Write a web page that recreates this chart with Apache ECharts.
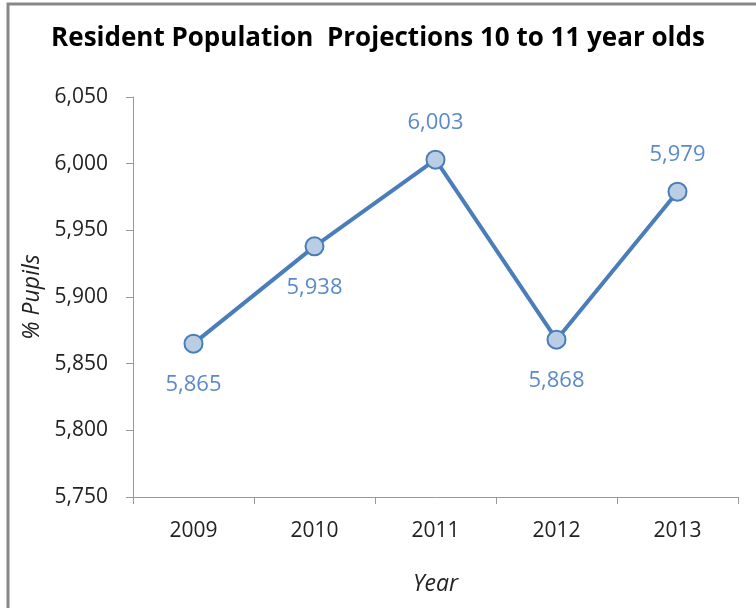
<!DOCTYPE html>
<html><head><meta charset="utf-8">
<script src="https://cdn.jsdelivr.net/npm/echarts@6/dist/echarts.min.js"></script>
<style>html,body{margin:0;padding:0;background:#fff}#c{width:756px;height:608px}</style>
</head><body><div id="c"></div>
<script>
const categories = ['2009','2010','2011','2012','2013'];
const values = [5865, 5938, 6003, 5868, 5979];
const labelPositions = ['bottom','bottom','top','bottom','top'];
const yTicks = {min: 5750, max: 6050, interval: 50};

const chart = echarts.init(document.getElementById('c'));
const fmt = v => v.toLocaleString('en-US');
chart.setOption({
  animation: false,
  backgroundColor: '#fff',
  title: {
    text: 'Resident Population  Projections 10 to 11 year olds',
    left: 'center', top: 21,
    textStyle: {fontFamily: 'Open Sans', fontWeight: 'bold', fontSize: 26, color: '#000'}
  },
  graphic: [{
    type: 'rect', shape: {x: 8, y: 4, width: 800, height: 700},
    style: {fill: 'none', stroke: '#888', lineWidth: 3}, silent: true
  }],
  grid: {left: 133, right: 18, top: 97, bottom: 111, containLabel: false},
  xAxis: {
    type: 'category', data: categories, boundaryGap: true,
    name: 'Year', nameLocation: 'middle', nameGap: 76,
    nameTextStyle: {fontFamily: 'Open Sans', fontStyle: 'italic', fontSize: 23, color: '#222'},
    axisLine: {lineStyle: {color: '#999', width: 1}},
    axisTick: {show: true, inside: false, length: 7, alignWithLabel: false, lineStyle: {color: '#999'}},
    axisLabel: {fontFamily: 'Open Sans', fontSize: 21, color: '#222', margin: 24},
    splitLine: {show: false}
  },
  yAxis: {
    type: 'value', min: yTicks.min, max: yTicks.max, interval: yTicks.interval,
    name: '% Pupils', nameLocation: 'middle', nameGap: 80, nameRotate: 90,
    nameTextStyle: {fontFamily: 'Open Sans', fontStyle: 'italic', fontSize: 23, color: '#222'},
    axisLine: {show: true, lineStyle: {color: '#999', width: 1}},
    axisTick: {show: true, length: 7, lineStyle: {color: '#999'}},
    axisLabel: {fontFamily: 'Open Sans', fontSize: 21, color: '#222', margin: 25, formatter: fmt},
    splitLine: {show: false}
  },
  series: [{
    type: 'line',
    data: values.map((v, i) => ({value: v, label: {position: labelPositions[i], distance: labelPositions[i] === 'top' ? 16 : 20}})),
    symbol: 'circle', symbolSize: 18,
    lineStyle: {color: '#4A7EBB', width: 4},
    itemStyle: {color: '#B9CDE5', borderColor: '#4A7EBB', borderWidth: 2},
    label: {show: true, formatter: p => fmt(p.value),
      fontFamily: 'Open Sans', fontSize: 22, color: '#5A8ACB'}
  }]
});
</script></body></html>
